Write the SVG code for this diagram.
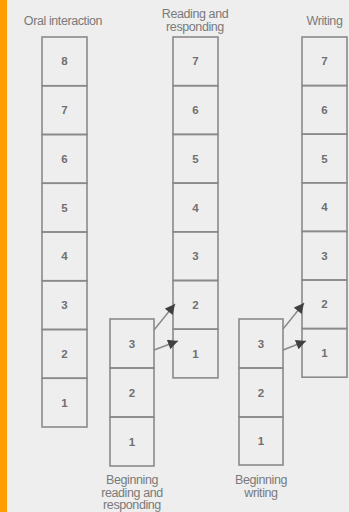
<svg xmlns="http://www.w3.org/2000/svg" width="349" height="512" viewBox="0 0 349 512">
<defs>
<style>
.cell{fill:none;stroke:#8a8a8a;stroke-width:1.6}
.num{font-family:"Liberation Sans",Arial,sans-serif;font-size:11.5px;font-weight:bold;fill:#707070;text-anchor:middle;dominant-baseline:central}
.lbl{font-family:"Liberation Sans",Arial,sans-serif;font-size:12.5px;fill:#7a7a7a;text-anchor:middle;letter-spacing:-0.4px}
.conn{stroke:#888;stroke-width:1.4;fill:none;marker-end:url(#ah)}
</style>
<marker id="ah" viewBox="0 0 10 10" refX="10" refY="5" markerWidth="11" markerHeight="10" markerUnits="userSpaceOnUse" orient="auto">
<path d="M0,0 L10,5 L0,10 z" fill="#404040"/>
</marker>
</defs>
<rect x="0" y="0" width="349" height="512" fill="#eeeeef"/>
<rect x="0" y="0" width="7" height="512" fill="#ff9c00"/>

<g id="oral">
<text class="lbl" x="63" y="25">Oral interaction</text>
<rect class="cell" x="42" y="37" width="45" height="48.75"/>
<rect class="cell" x="42" y="85.75" width="45" height="48.75"/>
<rect class="cell" x="42" y="134.5" width="45" height="48.75"/>
<rect class="cell" x="42" y="183.25" width="45" height="48.75"/>
<rect class="cell" x="42" y="232" width="45" height="48.75"/>
<rect class="cell" x="42" y="280.75" width="45" height="48.75"/>
<rect class="cell" x="42" y="329.5" width="45" height="48.75"/>
<rect class="cell" x="42" y="378.25" width="45" height="48.75"/>
<text class="num" x="64.5" y="61.4">8</text>
<text class="num" x="64.5" y="110.1">7</text>
<text class="num" x="64.5" y="158.9">6</text>
<text class="num" x="64.5" y="207.6">5</text>
<text class="num" x="64.5" y="256.4">4</text>
<text class="num" x="64.5" y="305.1">3</text>
<text class="num" x="64.5" y="353.9">2</text>
<text class="num" x="64.5" y="402.6">1</text>
</g>

<g id="reading">
<text class="lbl" x="195" y="18">Reading and</text>
<text class="lbl" x="195" y="31">responding</text>
<rect class="cell" x="173" y="37" width="45" height="48.7"/>
<rect class="cell" x="173" y="85.7" width="45" height="48.7"/>
<rect class="cell" x="173" y="134.4" width="45" height="48.7"/>
<rect class="cell" x="173" y="183.1" width="45" height="48.7"/>
<rect class="cell" x="173" y="231.8" width="45" height="48.7"/>
<rect class="cell" x="173" y="280.5" width="45" height="48.7"/>
<rect class="cell" x="173" y="329.2" width="45" height="48.7"/>
<text class="num" x="195.5" y="61.4">7</text>
<text class="num" x="195.5" y="110.1">6</text>
<text class="num" x="195.5" y="158.8">5</text>
<text class="num" x="195.5" y="207.5">4</text>
<text class="num" x="195.5" y="256.2">3</text>
<text class="num" x="195.5" y="304.9">2</text>
<text class="num" x="195.5" y="353.6">1</text>
</g>

<g id="writing">
<text class="lbl" x="324.5" y="25">Writing</text>
<rect class="cell" x="302" y="37" width="45" height="48.6"/>
<rect class="cell" x="302" y="85.6" width="45" height="48.6"/>
<rect class="cell" x="302" y="134.2" width="45" height="48.6"/>
<rect class="cell" x="302" y="182.8" width="45" height="48.6"/>
<rect class="cell" x="302" y="231.4" width="45" height="48.6"/>
<rect class="cell" x="302" y="280" width="45" height="48.6"/>
<rect class="cell" x="302" y="328.6" width="45" height="48.6"/>
<text class="num" x="324.5" y="61.3">7</text>
<text class="num" x="324.5" y="109.9">6</text>
<text class="num" x="324.5" y="158.5">5</text>
<text class="num" x="324.5" y="207.1">4</text>
<text class="num" x="324.5" y="255.7">3</text>
<text class="num" x="324.5" y="304.3">2</text>
<text class="num" x="324.5" y="352.9">1</text>
</g>

<g id="beginning-reading">
<rect class="cell" x="110" y="319" width="44" height="49"/>
<rect class="cell" x="110" y="368" width="44" height="49"/>
<rect class="cell" x="110" y="417" width="44" height="49"/>
<text class="num" x="132" y="343.5">3</text>
<text class="num" x="132" y="392.5">2</text>
<text class="num" x="132" y="441.5">1</text>
<text class="lbl" x="132" y="484">Beginning</text>
<text class="lbl" x="132" y="496.5">reading and</text>
<text class="lbl" x="132" y="509">responding</text>
</g>

<g id="beginning-writing">
<rect class="cell" x="239" y="319" width="44" height="49"/>
<rect class="cell" x="239" y="368" width="44" height="49"/>
<rect class="cell" x="239" y="417" width="44" height="48"/>
<text class="num" x="261" y="343.5">3</text>
<text class="num" x="261" y="392.5">2</text>
<text class="num" x="261" y="441">1</text>
<text class="lbl" x="261" y="484">Beginning</text>
<text class="lbl" x="261" y="496.5">writing</text>
</g>

<g id="connectors">
<line class="conn" x1="154" y1="330" x2="175" y2="304"/>
<line class="conn" x1="154" y1="350" x2="178" y2="341"/>
<line class="conn" x1="283" y1="329" x2="304" y2="303"/>
<line class="conn" x1="283" y1="350" x2="306" y2="341"/>
</g>
</svg>
